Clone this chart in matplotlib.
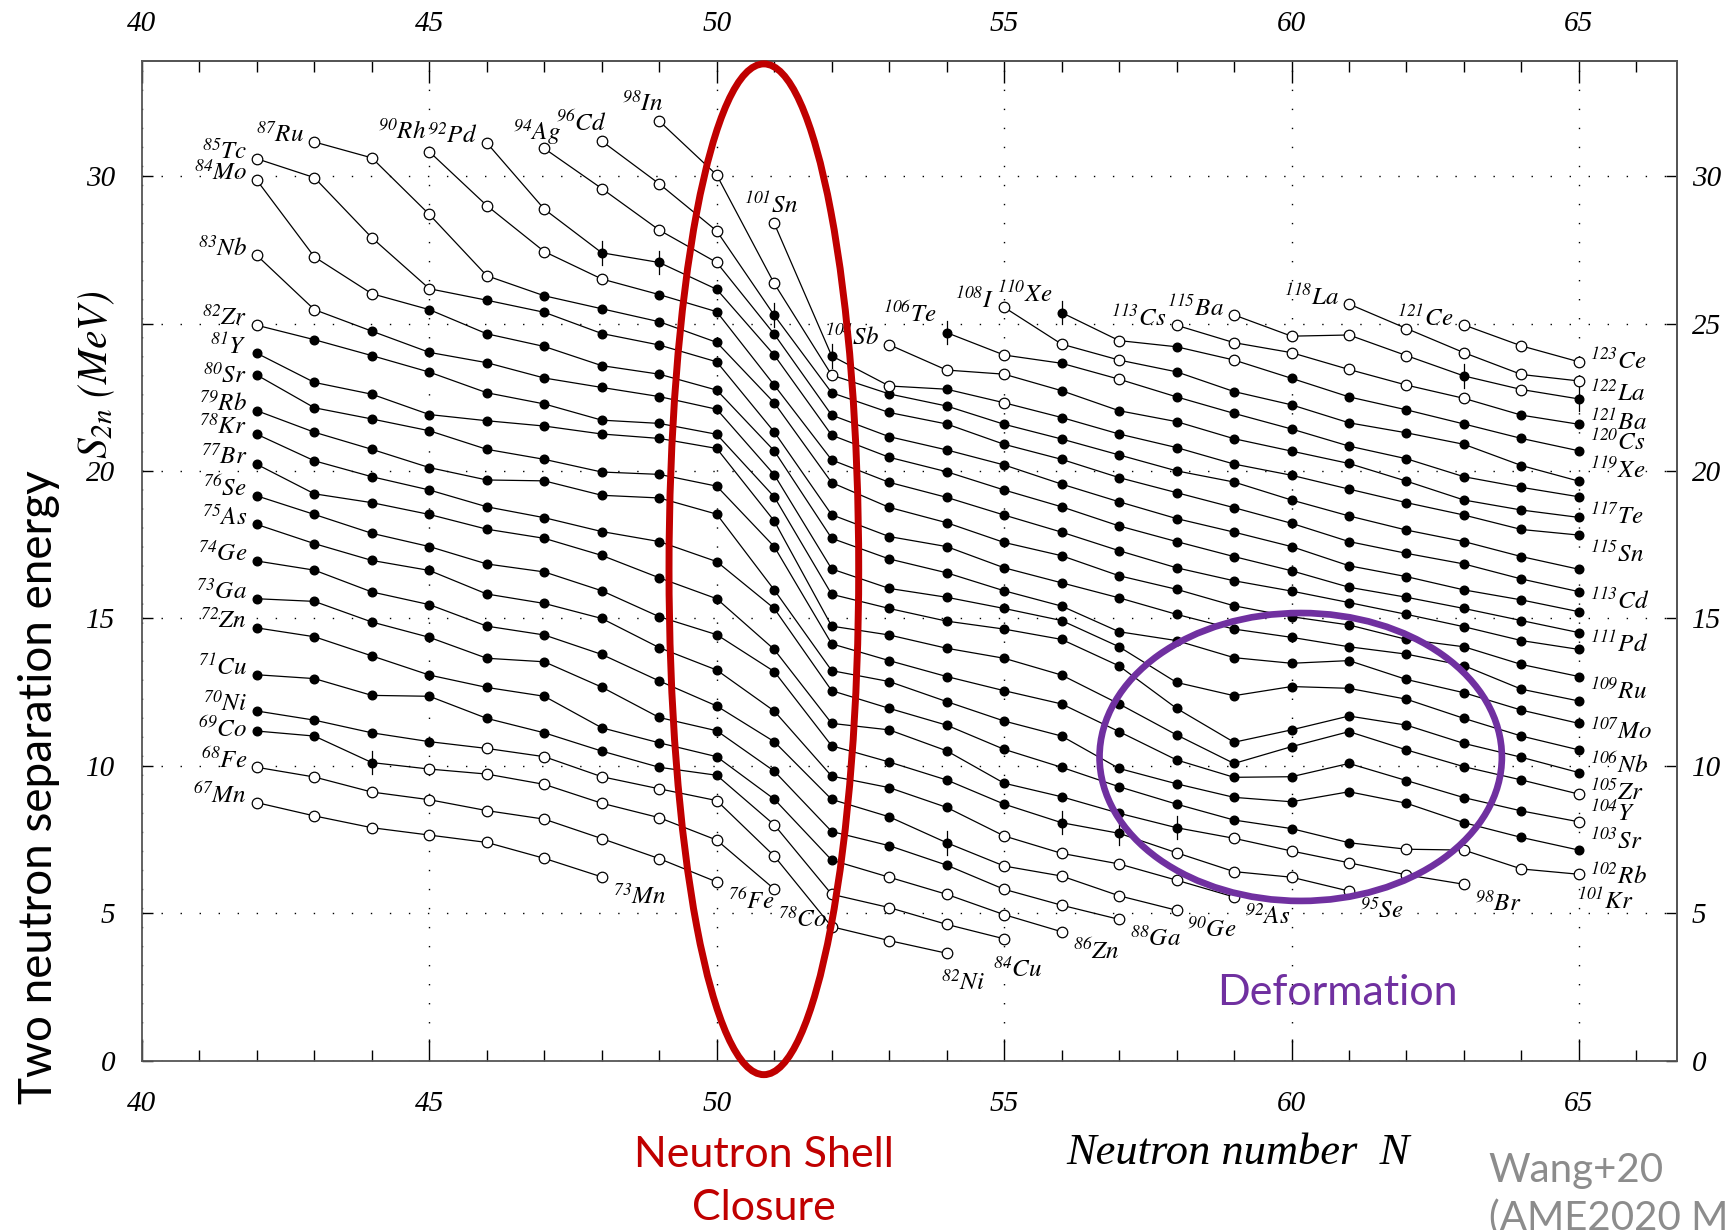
import matplotlib
matplotlib.use("Agg")
import matplotlib.pyplot as plt
from matplotlib.patches import Ellipse
from matplotlib.ticker import FixedLocator

plt.rcParams["font.family"] = "Liberation Serif"
plt.rcParams["font.style"] = "italic"
plt.rcParams["mathtext.fontset"] = "stix"

# ---- S2n (MeV) of each isotopic chain, from its first to its last N ----
S2N_MN = [8.75, 8.30, 7.90, 7.65, 7.40, 6.86, 6.23]
S2N_FE = [9.95, 9.62, 9.11, 8.85, 8.48, 8.19, 7.53, 6.85, 6.06]
S2N_CO = [11.18, 11.01, 10.11, 9.89, 9.72, 9.37, 8.73, 8.24, 7.48, 5.82]
S2N_NI = [11.86, 11.55, 11.12, 10.82, 10.59, 10.31, 9.63, 9.22, 8.82, 6.94, 4.54, 4.07, 3.64]
S2N_CU = [13.09, 12.96, 12.39, 12.36, 11.61, 11.12, 10.50, 9.95, 9.68, 8.00, 5.64, 5.19, 4.62, 4.13]
S2N_ZN = [14.68, 14.38, 13.73, 13.08, 12.66, 12.36, 11.29, 10.78, 10.31, 8.87, 6.80, 6.22, 5.64, 4.95, 4.37]
S2N_GA = [15.67, 15.58, 14.88, 14.36, 13.65, 13.53, 12.67, 11.64, 11.19, 9.82, 7.77, 7.29, 6.63, 5.81,
          5.27, 4.79]
S2N_GE = [16.95, 16.64, 15.90, 15.47, 14.74, 14.44, 13.78, 12.88, 12.03, 10.82, 8.86, 8.27, 7.39, 6.60,
          6.26, 5.59, 5.10]
S2N_AS = [18.19, 17.54, 16.97, 16.63, 15.83, 15.51, 15.00, 14.01, 13.25, 11.86, 9.65, 9.26, 8.59, 7.62,
          7.03, 6.67, 6.12, 5.55]
S2N_SE = [19.16, 18.53, 17.89, 17.44, 16.85, 16.58, 15.94, 15.06, 14.45, 13.20, 10.68, 10.13, 9.52, 8.70,
          8.07, 7.71, 7.05, 6.41, 6.22, 5.75]
S2N_BR = [20.23, 19.23, 18.93, 18.53, 18.03, 17.72, 17.14, 16.38, 15.67, 13.95, 11.44, 11.22, 10.51, 9.41,
          8.95, 8.39, 7.90, 7.54, 7.11, 6.71, 6.30, 5.98]
S2N_KR = [21.25, 20.35, 19.81, 19.36, 18.79, 18.42, 17.95, 17.61, 16.93, 15.34, 12.55, 11.95, 11.38, 10.56,
          9.95, 9.29, 8.70, 8.16, 7.87, 7.39, 7.17, 7.14, 6.50, 6.32]
S2N_RB = [22.05, 21.32, 20.74, 20.12, 19.70, 19.67, 19.18, 19.09, 18.54, 15.97, 13.23, 12.86, 12.18, 11.52,
          11.01, 9.91, 9.39, 8.93, 8.78, 9.12, 8.73, 8.07, 7.57, 7.14]
S2N_SR = [23.26, 22.15, 21.77, 21.37, 20.74, 20.40, 19.97, 19.89, 19.49, 17.44, 14.14, 13.57, 13.03, 12.55,
          12.10, 11.16, 10.20, 9.61, 9.63, 10.08, 9.50, 8.92, 8.47, 8.10]
S2N_Y = [24.00, 23.01, 22.61, 21.92, 21.71, 21.53, 21.26, 21.11, 20.77, 18.31, 14.74, 14.44, 13.99, 13.65,
         13.08, 12.10, 11.05, 10.08, 10.65, 11.16, 10.54, 9.97, 9.52, 9.04]
S2N_ZR = [24.95, 24.46, 23.92, 23.36, 22.66, 22.28, 21.73, 21.62, 21.25, 19.13, 15.82, 15.34, 14.91, 14.64,
          14.29, 13.39, 11.95, 10.80, 11.22, 11.69, 11.38, 10.76, 10.29, 9.77]
S2N_NB = [27.32, 25.48, 24.75, 24.03, 23.68, 23.16, 22.84, 22.53, 22.10, 19.88, 16.68, 16.02, 15.72, 15.34,
          14.93, 14.04, 12.83, 12.38, 12.69, 12.63, 12.26, 11.61, 11.01, 10.54]
S2N_MO = [29.87, 27.27, 26.02, 25.48, 24.66, 24.23, 23.58, 23.29, 22.75, 20.69, 17.72, 17.02, 16.55, 15.94,
          15.42, 14.55, 14.25, 13.67, 13.48, 13.57, 12.93, 12.48, 11.89, 11.44]
S2N_TC = [30.60, 29.96, 27.92, 26.19, 25.80, 25.39, 24.67, 24.28, 23.71, 21.33, 18.52, 17.78, 17.44, 16.72,
          16.21, 15.70, 15.14, 14.64, 14.36, 14.04, 13.79, 13.40, 12.60, 12.20]
S2N_RU = [31.17, 30.63, 28.71, 26.63, 25.95, 25.51, 25.07, 24.37, 22.32, 19.61, 18.77, 18.25, 17.58, 17.13,
          16.45, 15.99, 15.43, 15.06, 14.78, 14.29, 14.04, 13.44, 13.03]
S2N_RH = [30.84, 29.01, 27.45, 26.52, 25.99, 25.41, 22.92, 20.38, 19.62, 19.11, 18.51, 17.93, 17.30, 16.72,
          16.28, 15.93, 15.54, 15.14, 14.72, 14.25, 13.95]
S2N_PD = [31.14, 28.89, 27.41, 27.08, 26.17, 23.94, 21.22, 20.47, 19.98, 19.36, 18.79, 18.14, 17.61, 17.10,
          16.62, 16.06, 15.72, 15.34, 14.93, 14.52]
S2N_AG = [30.95, 29.59, 28.18, 27.08, 24.65, 21.90, 21.17, 20.72, 20.21, 19.56, 18.96, 18.39, 17.93, 17.44,
          16.79, 16.42, 15.97, 15.63, 15.23]
S2N_CD = [31.20, 29.75, 28.15, 25.29, 22.66, 21.99, 21.60, 20.91, 20.40, 19.78, 19.27, 18.76, 18.23, 17.61,
          17.21, 16.85, 16.34, 15.91]
S2N_IN = [31.88, 30.05, 26.37, 23.26, 22.62, 22.21, 21.59, 21.09, 20.55, 20.01, 19.63, 19.02, 18.48, 18.00,
          17.61, 17.10, 16.67]
S2N_SN = [28.41, 23.91, 22.89, 22.78, 22.32, 21.82, 21.26, 20.80, 20.24, 19.86, 19.39, 18.93, 18.51, 18.02,
          17.83]
S2N_SB = [24.29, 23.43, 23.29, 22.73, 22.05, 21.68, 21.10, 20.68, 20.26, 19.66, 19.02, 18.68, 18.43]
S2N_TE = [24.70, 23.94, 23.66, 23.12, 22.52, 21.96, 21.43, 20.85, 20.42, 19.81, 19.45, 19.13]
S2N_I = [25.56, 24.31, 23.77, 23.37, 22.70, 22.25, 21.64, 21.30, 20.91, 20.19, 19.66]
S2N_XE = [25.38, 24.43, 24.22, 23.77, 23.15, 22.52, 22.08, 21.60, 21.11, 20.69]
S2N_CS = [24.95, 24.36, 24.02, 23.45, 22.92, 22.47, 21.90, 21.59]
S2N_BA = [25.30, 24.58, 24.62, 23.92, 23.23, 22.77, 22.45]
S2N_LA = [25.67, 24.84, 24.02, 23.28, 23.06]
S2N_CE = [24.96, 24.25, 23.71]

# point type: o = extrapolated (open), f = measured, e = measured with error bar
MK_MN = "ooooooo"
MK_FE = "ooooooooo"
MK_CO = "ffe" + "o" * 7
MK_NI = "ffff" + "o" * 9
MK_CU = "f" * 9 + "o" * 5
MK_ZN = "f" * 11 + "o" * 4
MK_GA = "f" * 13 + "o" * 3
MK_GE = "f" * 12 + "e" + "o" * 4
MK_AS = "f" * 13 + "o" * 5
MK_SE = "f" * 14 + "ee" + "o" * 4
MK_BR = "f" * 16 + "e" + "o" * 5
MK_KR = "f" * 20 + "o" * 4
MK_RB = "f" * 24
MK_SR = "f" * 23 + "o"
MK_Y = "f" * 23 + "o"
MK_ZR = "o" + "f" * 23
MK_NB = "oo" + "f" * 22
MK_MO = "ooo" + "f" * 21
MK_TC = "oooo" + "f" * 20
MK_RU = "oooo" + "f" * 19
MK_RH = "oooo" + "f" * 17
MK_PD = "ooee" + "f" * 16
MK_AG = "oooo" + "f" * 15
MK_CD = "oooe" + "f" * 14
MK_IN = "oooo" + "f" * 13
MK_SN = "oeofo" + "f" * 10
MK_SB = "ooo" + "f" * 10
MK_TE = "eofo" + "f" * 8
MK_I = "ooo" + "f" * 8
MK_XE = "eofo" + "f" * 6
MK_CS = "oooooo" + "ff"
MK_BA = "ooooeoe"
MK_LA = "ooooo"
MK_CE = "ooo"

CHAINS = [  # symbol, Z, first N, S2n values, point types
    ("Mn", 25, 42, S2N_MN, MK_MN), ("Fe", 26, 42, S2N_FE, MK_FE),
    ("Co", 27, 42, S2N_CO, MK_CO), ("Ni", 28, 42, S2N_NI, MK_NI),
    ("Cu", 29, 42, S2N_CU, MK_CU), ("Zn", 30, 42, S2N_ZN, MK_ZN),
    ("Ga", 31, 42, S2N_GA, MK_GA), ("Ge", 32, 42, S2N_GE, MK_GE),
    ("As", 33, 42, S2N_AS, MK_AS), ("Se", 34, 42, S2N_SE, MK_SE),
    ("Br", 35, 42, S2N_BR, MK_BR), ("Kr", 36, 42, S2N_KR, MK_KR),
    ("Rb", 37, 42, S2N_RB, MK_RB), ("Sr", 38, 42, S2N_SR, MK_SR),
    ("Y", 39, 42, S2N_Y, MK_Y), ("Zr", 40, 42, S2N_ZR, MK_ZR),
    ("Nb", 41, 42, S2N_NB, MK_NB), ("Mo", 42, 42, S2N_MO, MK_MO),
    ("Tc", 43, 42, S2N_TC, MK_TC), ("Ru", 44, 43, S2N_RU, MK_RU),
    ("Rh", 45, 45, S2N_RH, MK_RH), ("Pd", 46, 46, S2N_PD, MK_PD),
    ("Ag", 47, 47, S2N_AG, MK_AG), ("Cd", 48, 48, S2N_CD, MK_CD),
    ("In", 49, 49, S2N_IN, MK_IN), ("Sn", 50, 51, S2N_SN, MK_SN),
    ("Sb", 51, 53, S2N_SB, MK_SB), ("Te", 52, 54, S2N_TE, MK_TE),
    ("I", 53, 55, S2N_I, MK_I), ("Xe", 54, 56, S2N_XE, MK_XE),
    ("Cs", 55, 58, S2N_CS, MK_CS), ("Ba", 56, 59, S2N_BA, MK_BA),
    ("La", 57, 61, S2N_LA, MK_LA), ("Ce", 58, 63, S2N_CE, MK_CE),
]

# chains that also carry a label at their last point
END_LABELED = ["Mn", "Fe", "Co", "Ni", "Cu", "Zn", "Ga", "Ge", "As", "Se", "Br",
               "Kr", "Rb", "Sr", "Y", "Zr", "Nb", "Mo", "Ru", "Pd", "Cd", "Sn",
               "Te", "Xe", "Cs", "Ba", "La", "Ce"]

X_TICKS = [40, 45, 50, 55, 60, 65]
X_MINOR = list(range(40, 67))
Y_TICKS = [0, 5, 10, 15, 20, 25, 30]

# label offsets (dN, dS) from the first / last point
START_OFF = {"Co": (-0.17, -0.2), "Sr": (-0.17, -0.28), "Rh": (-0.06, 0.45),
             "Ag": (0.3, 0.3), "Cd": (0.08, 0.34), "In": (0.06, 0.34),
             "Sn": (0.41, 0.36), "Te": (-0.17, 0.37), "Xe": (-0.17, 0.37)}
END_OFF = {"Co": (0.06, -1.28), "Ni": (-0.1, -1.24), "Cu": (-0.2, -1.29),
           "Kr": (-0.04, -1.15), "Rb": (0.19, -1.13), "Nb": (0.19, -0.75),
           "Mo": (0.19, -0.5), "Ru": (0.19, -0.74), "Pd": (0.19, -0.64),
           "Cd": (0.19, -0.57), "Cs": (0.19, -0.85), "Ba": (0.19, -1.05),
           "La": (0.19, -0.67), "Ce": (0.19, -0.23)}

RED = "#C00000"
PURPLE = "#7030A0"
SPINE = "#555555"


def iso_label(a, sym):
    return r"$^{\mathit{%d}}\mathit{%s}$" % (a, sym)


fig = plt.figure(figsize=(17.29, 12.30), dpi=100)
ax = fig.add_axes([0.0821, 0.1378, 0.8876, 0.8129])
ax.set_xlim(40, 66.7)
ax.set_ylim(0, 33.93)

for sym, z, n0, vals, kinds in CHAINS:
    ns = list(range(n0, n0 + len(vals)))
    ax.plot(ns, vals, color="black", lw=0.9, zorder=2)
    op = [(n, s) for n, s, k in zip(ns, vals, kinds) if k == "o"]
    ms = [(n, s) for n, s, k in zip(ns, vals, kinds) if k != "o"]
    if op:
        ax.plot(*zip(*op), "o", ms=7.6, mfc="white", mec="black", mew=0.9,
                ls="none", zorder=3)
    if ms:
        ax.plot(*zip(*ms), "o", ms=6.2, mfc="black", mec="black",
                ls="none", zorder=3)
    for n, s, k in zip(ns, vals, kinds):
        if k == "e":
            ax.plot([n, n], [s - 0.4, s + 0.4], color="black", lw=0.9, zorder=3)

    dx, dy = START_OFF.get(sym, (-0.17, 0.0))
    ax.text(n0 + dx, vals[0] + dy, iso_label(z + n0, sym), fontsize=18,
            ha="right", va="baseline", zorder=4)
    if sym in END_LABELED:
        n1 = ns[-1]
        dx, dy = END_OFF.get(sym, (0.19, -0.9))
        ax.text(n1 + dx, vals[-1] + dy, iso_label(z + n1, sym), fontsize=18,
                ha="left", va="baseline", zorder=4, clip_on=False)

# bottom / left axes (the left "25" sits under the S2n title in the original)
ax.xaxis.set_major_locator(FixedLocator(X_TICKS))
ax.xaxis.set_minor_locator(FixedLocator(X_MINOR))
ax.set_yticks(Y_TICKS, ["" if v == 25 else str(v) for v in Y_TICKS])
ax.tick_params(axis="x", which="major", direction="in", length=16, width=1,
               top=False, labelsize=21, pad=22)
ax.tick_params(axis="x", which="minor", direction="in", length=8, width=1,
               top=False)
ax.tick_params(axis="y", which="major", direction="in", length=8, width=1,
               right=False, labelsize=21, pad=19)

# top / right axes carry their own labels
secx = ax.secondary_xaxis("top")
secx.xaxis.set_major_locator(FixedLocator(X_TICKS))
secx.xaxis.set_minor_locator(FixedLocator(X_MINOR))
secx.tick_params(which="major", direction="in", length=16, width=1,
                 labelsize=21, pad=17)
secx.tick_params(which="minor", direction="in", length=8, width=1)
secy = ax.secondary_yaxis("right")
secy.yaxis.set_major_locator(FixedLocator(Y_TICKS))
secy.tick_params(which="major", direction="in", length=8, width=1,
                 labelsize=21, pad=11)

for a in (ax, secx, secy):
    for sp in a.spines.values():
        sp.set_color(SPINE)
        sp.set_linewidth(1.3)
ax.grid(True, which="major", color="black", linestyle=(0, (1, 12.7)), lw=1.0)
ax.set_axisbelow(True)

# highlighted regions
ax.add_patch(Ellipse((50.82, 16.67), 3.3, 34.3, fill=False, ec=RED, lw=5,
                     clip_on=False, zorder=6))
ax.add_patch(Ellipse((60.16, 10.3), 7.0, 9.77, fill=False, ec=PURPLE, lw=4.8,
                     zorder=6))

# annotations
sans = "Lato"
fig.text(0.7736, 0.1923, "Deformation", color=PURPLE, fontsize=31,
         family=sans, style="normal", ha="center", va="center")
fig.text(0.442, 0.0394, "Neutron Shell\nClosure", color=RED, fontsize=31,
         family=sans, style="normal", ha="center", va="center",
         linespacing=1.5)
fig.text(0.0223, 0.360, "Two neutron separation energy", rotation=90,
         fontsize=33, family=sans, style="normal", ha="center", va="center")
fig.text(0.056, 0.695, r"$S_{2n}\ (MeV)$", rotation=90, fontsize=30,
         ha="center", va="center")
fig.text(0.716, 0.0626, "Neutron number  N", fontsize=32, ha="center",
         va="center")
fig.text(0.861, 0.0289, "Wang+20\n(AME2020 Mass Evaluation)", color="#8C8C8C",
         fontsize=29, family=sans, style="normal", ha="left", va="center",
         linespacing=1.32)

fig.savefig("out.png", dpi=100)
